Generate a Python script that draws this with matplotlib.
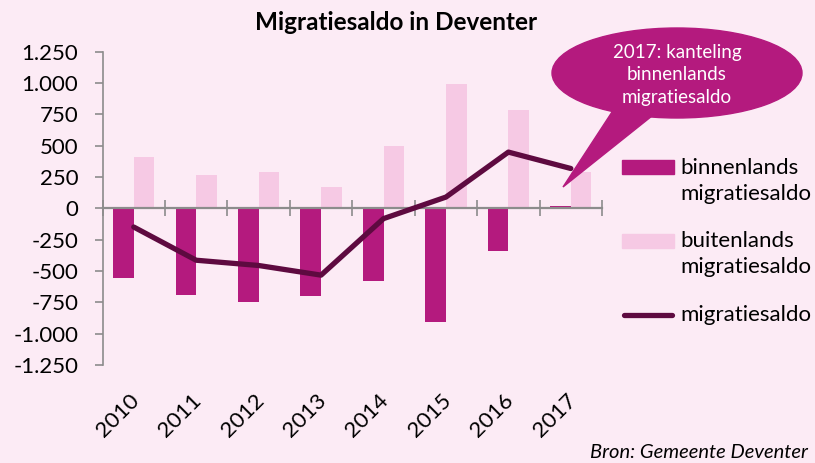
import numpy as np
import matplotlib.pyplot as plt
import matplotlib.transforms as mtransforms
from matplotlib.patches import Ellipse, Polygon, Rectangle
from matplotlib.lines import Line2D
from matplotlib.ticker import FuncFormatter

plt.rcParams['font.family'] = ['Lato', 'DejaVu Sans']

years = ['2010', '2011', '2012', '2013', '2014', '2015', '2016', '2017']
binnenlands = [-557, -690, -748, -701, -579, -905, -342, 21]
buitenlands = [406, 263, 287, 167, 496, 995, 788, 292]
saldo = [-149, -414, -456, -533, -82, 90, 449, 318]

bg = '#fcebf5'
c_binnen = '#b41a7e'
c_buiten = '#f6c9e4'
c_saldo = '#5e0a40'
c_axis = '#8c8c8c'

W, H = 815, 463


def fx(px):
    return px / W


def fy(py):
    return 1 - py / H


fig = plt.figure(figsize=(8.15, 4.63), dpi=100, facecolor=bg)
ax = fig.add_axes([0.1258, 0.2117, 0.6129, 0.6766], facecolor=bg)

x = np.arange(len(years))
w = 0.33
ax.bar(x - w / 2, binnenlands, w, color=c_binnen, zorder=2)
ax.bar(x + w / 2, buitenlands, w, color=c_buiten, zorder=2)
ax.plot(x, saldo, color=c_saldo, lw=3.8, solid_capstyle='round',
        solid_joinstyle='round', zorder=4)

ax.set_xlim(-0.5, len(years) - 0.5)
ax.set_ylim(-1250, 1250)
ax.set_yticks(np.arange(-1250, 1251, 250))
ax.yaxis.set_major_formatter(FuncFormatter(lambda v, p: f'{int(v):,}'.replace(',', '.')))
ax.tick_params(axis='y', direction='out', length=5.5, width=1.2, color=c_axis,
               labelsize=16, pad=12)

for s in ['top', 'right']:
    ax.spines[s].set_visible(False)
ax.spines['left'].set_color(c_axis)
ax.spines['left'].set_linewidth(1.2)
ax.spines['bottom'].set_position(('data', 0))
ax.spines['bottom'].set_color(c_axis)
ax.spines['bottom'].set_linewidth(1.6)
ax.spines['bottom'].set_zorder(3)
ax.set_xticks(np.arange(-0.5, len(years), 1.0))
ax.tick_params(axis='x', direction='inout', length=11, width=1.2, color=c_axis,
               labelbottom=False)

# year labels at the bottom of the plot area
sec = ax.secondary_xaxis(0)
sec.set_xticks(x)
sec.set_xticklabels(years, rotation=45, ha='right', va='top',
                    rotation_mode='anchor', fontsize=16)
sec.tick_params(length=0, pad=18)
sec.spines['bottom'].set_visible(False)
shift = mtransforms.ScaledTranslation(-5 / 100, 0, fig.dpi_scale_trans)
for lab in sec.get_xticklabels():
    lab.set_transform(lab.get_transform() + shift)

fig.text(fx(396), fy(22), 'Migratiesaldo in Deventer', ha='center', va='center',
         fontsize=17.5, fontweight='bold')

# callout
fig.patches.append(Polygon([(fx(612), fy(112)), (fx(657), fy(112)), (fx(563), fy(187))],
                           closed=True, transform=fig.transFigure, color=c_binnen, zorder=5))
fig.patches.append(Ellipse((fx(677), fy(73)), 250 / W, 90 / H,
                           transform=fig.transFigure, color=c_binnen, zorder=5))
fig.text(fx(677), fy(75), '2017: kanteling\nbinnenlands\nmigratiesaldo',
         ha='center', va='center', color='white', fontsize=13.5, linespacing=1.4,
         zorder=6)

# legend
fs = 16
fig.patches.append(Rectangle((fx(622), fy(174)), 52 / W, 14 / H,
                             transform=fig.transFigure, color=c_binnen))
fig.text(fx(680), fy(158), 'binnenlands\nmigratiesaldo', ha='left', va='top',
         fontsize=fs, linespacing=1.38)
fig.patches.append(Rectangle((fx(622), fy(248)), 52 / W, 14 / H,
                             transform=fig.transFigure, color=c_buiten))
fig.text(fx(680), fy(231), 'buitenlands\nmigratiesaldo', ha='left', va='top',
         fontsize=fs, linespacing=1.38)
fig.lines.append(Line2D([fx(624), fx(672)], [fy(315), fy(315)],
                        transform=fig.transFigure, color=c_saldo, lw=3.8,
                        solid_capstyle='round'))
fig.text(fx(680), fy(315), 'migratiesaldo', ha='left', va='center', fontsize=fs)

fig.text(fx(808), fy(453), 'Bron: Gemeente Deventer', ha='right', va='center',
         fontsize=14.5, style='italic')

fig.savefig('out.png', dpi=100, facecolor=bg)
